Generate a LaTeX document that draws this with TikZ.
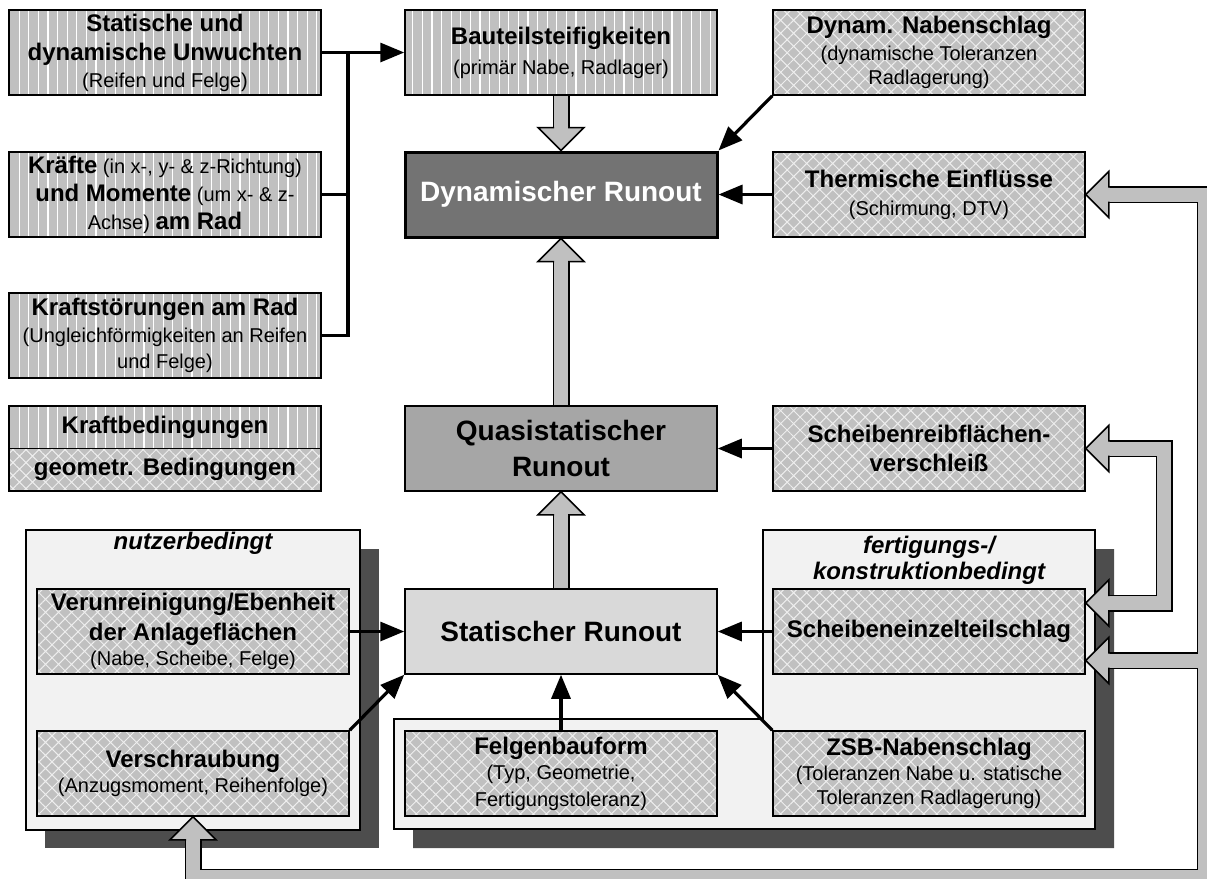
\documentclass[tikz,border=0pt]{standalone}
\usepackage{fontspec}
\setmainfont{Liberation Sans}
\usetikzlibrary{arrows.meta,calc,patterns.meta}
\definecolor{boxgray}{HTML}{C0C0C0}
\definecolor{hgray}{HTML}{C0C0C0}
\definecolor{dyngray}{HTML}{737373}
\definecolor{quasigray}{HTML}{A6A6A6}
\definecolor{statgray}{HTML}{D9D9D9}
\definecolor{grpgray}{HTML}{F2F2F2}
\definecolor{shadowgray}{HTML}{4D4D4D}
\definecolor{hatchwhite}{HTML}{EEEEEE}
\newcommand\bigf{\normalfont\fontsize{12}{12}\selectfont\bfseries}
\newcommand\smf{\normalfont\fontsize{10}{12}\selectfont}
\newcommand\runf{\normalfont\fontsize{14}{14}\selectfont\bfseries}
\tikzset{
  boxbase/.style={draw, line width=0.75pt, minimum width=156pt, minimum height=42.5pt,
    inner sep=0pt, align=center, font=\smf},
  forcebox/.style={boxbase, preaction={fill=boxgray},
    pattern={Lines[angle=90,distance=4.8pt,line width=0.6pt]}, pattern color=white},
  geombox/.style={boxbase, preaction={fill=boxgray},
    pattern={Hatch[angle=45,distance=4.6pt,line width=0.5pt]}, pattern color=hatchwhite},
  runbox/.style={boxbase},
  grpbox/.style={draw, line width=0.75pt, fill=grpgray, inner sep=0pt},
  grptitle/.style={inner sep=0pt, align=center, font=\normalfont\fontsize{12}{13}\selectfont\bfseries\itshape},
  cline/.style={line width=1.6pt, line join=miter},
  conn/.style={cline, -{Triangle[length=12pt,width=9.5pt]}},
  hout/.style={line width=8.5pt, draw=black, line join=miter},
  hin/.style={line width=7pt, draw=hgray, line join=miter},
  hhead/.pic={
    \fill[hgray] (0,0) -- (-23,-23) -- (-23,-7) -- (-24,-7) -- (-24,7) -- (-23,7) -- (-23,23) -- cycle;
    \draw[line width=0.75pt, line join=miter] (-23,7) -- (-23,23) -- (0,0) -- (-23,-23) -- (-23,-7);
  }
}
\begin{document}
\begin{tikzpicture}[x=0.5pt,y=-0.5pt]
\useasboundingbox (0,0) rectangle (1207,879);
\clip (0,0) rectangle (1207,879);

% shadows of groups
\fill[shadowgray] (45,549) rectangle (379,848);
\fill[shadowgray] (782,549) -- (1114,549) -- (1114,848) -- (413,848) -- (413,738) -- (782,738) -- cycle;
% groups
\node[grpbox, minimum width=167pt, minimum height=150pt] (gL) at (193,680) {};
\draw[grpbox] (763,530) -- (1095,530) -- (1095,829) -- (394,829) -- (394,719) -- (763,719) -- cycle;
\node[grptitle] (tL) at (193,543) {nutzerbedingt};
\node[grptitle] (tR) at (929,560) {fertigungs-/\\konstruktionbedingt};

% left column
\node[forcebox] (a) at (165,52.5) {\bigf Statische und\\[2.5pt]\bigf dynamische Unwuchten\\[1.5pt]\smf (Reifen und Felge)};
\node[forcebox] (b) at (165,194.5) {{\bigf Kräfte} (in x-, y- \& z-Richtung)\\[2pt]{\bigf und Momente} (um x- \& z-\\[2pt]Achse) {\bigf am Rad}};
\node[forcebox] (c) at (165,335.5) {\bigf Kraftstörungen am Rad\\[1.5pt]\smf (Ungleichförmigkeiten an Reifen\\[1pt]\smf und Felge)};
\node[forcebox, minimum height=21.25pt] (legK) at (165,427.25) {\bigf Kraftbedingungen};
\node[geombox, minimum height=21.25pt] (legG) at (165,469.75) {\bigf geometr. Bedingungen};

% middle column
\node[forcebox] (bau) at (561,52.5) {\bigf Bauteilsteifigkeiten\\[3pt]\smf (primär Nabe, Radlager)};
\node[runbox, fill=dyngray, line width=1.5pt, text=white] (dyn) at (561,194.5) {\runf Dynamischer Runout};
\node[runbox, fill=quasigray] (quasi) at (561,448.5) {\runf Quasistatischer\\[4.5pt]\runf Runout};
\node[runbox, fill=statgray] (stat) at (561,631.5) {\runf Statischer Runout};
\node[geombox] (felg) at (561,773.5) {\bigf Felgenbauform\\[0.5pt]\smf (Typ, Geometrie,\\[1.5pt]\smf Fertigungstoleranz)};

% right column
\node[geombox] (nab) at (929,52.5) {\bigf Dynam. Nabenschlag\\[1.5pt]\smf (dynamische Toleranzen\\\smf Radlagerung)};
\node[geombox] (therm) at (929,194.5) {\bigf Thermische Einflüsse\\[2pt]\smf (Schirmung, DTV)};
\node[geombox] (sreib) at (929,448.5) {\bigf Scheibenreibflächen-\\[2.5pt]\bigf verschleiß};
\node[geombox] (sez) at (929,631.5) {\bigf Scheibeneinzelteilschlag};
\node[geombox] (zsb) at (929,773.5) {\bigf ZSB-Nabenschlag\\[0.5pt]\smf (Toleranzen Nabe u. statische\\\smf Toleranzen Radlagerung)};

% lower left group
\node[geombox] (verun) at (193,631.5) {\bigf Verunreinigung/Ebenheit\\[3pt]\bigf der Anlageflächen\\[0.5pt]\smf (Nabe, Scheibe, Felge)};
\node[geombox] (vsch) at (193,773.5) {\bigf Verschraubung\\[0.5pt]\smf (Anzugsmoment, Reihenfolge)};

% black connectors
\coordinate (jA) at (348,52.5);
\draw[conn] (a.east) -- (bau.west);
\draw[cline] (b.east) -- (b.east -| jA);
\draw[cline] (c.east) -| (jA);
\draw[conn] (nab.south west) -- (dyn.north east);
\draw[conn] (therm.west) -- (dyn.east);
\draw[conn] (sreib.west) -- (quasi.east);
\draw[conn] (verun.east) -- (stat.west);
\draw[conn] (vsch.north east) -- (stat.south west);
\draw[conn] (felg.north) -- (stat.south);
\draw[conn] (sez.west) -- (stat.east);
\draw[conn] (zsb.north west) -- (stat.south east);

% hollow vertical arrows
\draw[hout] (bau.south) -- ($(dyn.north)+(0,-23)$);
\draw[hin] (bau.south) -- ($(dyn.north)+(0,-23)$);
\pic[rotate=-90] at (dyn.north) {hhead};
\draw[hout] (quasi.north) -- ($(dyn.south)+(0,23)$);
\draw[hin] (quasi.north) -- ($(dyn.south)+(0,23)$);
\pic[rotate=90] at (dyn.south) {hhead};
\draw[hout] (stat.north) -- ($(quasi.south)+(0,23)$);
\draw[hin] (stat.north) -- ($(quasi.south)+(0,23)$);
\pic[rotate=90] at (quasi.south) {hhead};

% U arrow between Scheibenreib and Scheibeneinzel
\coordinate (uA) at ($(sreib.east)+(23,0)$);
\coordinate (uB) at ($(sez.east)+(23,-28.5)$);
\coordinate (uX) at (1164,0);
\draw[hout] (uA) -- (uA -| uX) -- (uB -| uX) -- (uB);
\draw[hin] (uA) -- (uA -| uX) -- (uB -| uX) -- (uB);
\pic[rotate=180] at (sreib.east) {hhead};
\pic[rotate=180] at ($(sez.east)+(0,-28.5)$) {hhead};

% big feedback loop
\coordinate (rail) at (1205,877);
\coordinate (lA) at ($(therm.east)+(23,0)$);
\coordinate (lB) at ($(vsch.south)+(0,23)$);
\coordinate (brB) at ($(sez.east)+(23,29)$);
\draw[hout] (lA) -| (rail) -| (lB);
\draw[hout] (brB) -- (brB -| rail);
\draw[hin] (lA) -| (rail) -| (lB);
\draw[hin] (brB) -- (brB -| rail);
\pic[rotate=180] at (therm.east) {hhead};
\pic[rotate=180] at ($(sez.east)+(0,29)$) {hhead};
\pic[rotate=90] at (vsch.south) {hhead};
\end{tikzpicture}
\end{document}
